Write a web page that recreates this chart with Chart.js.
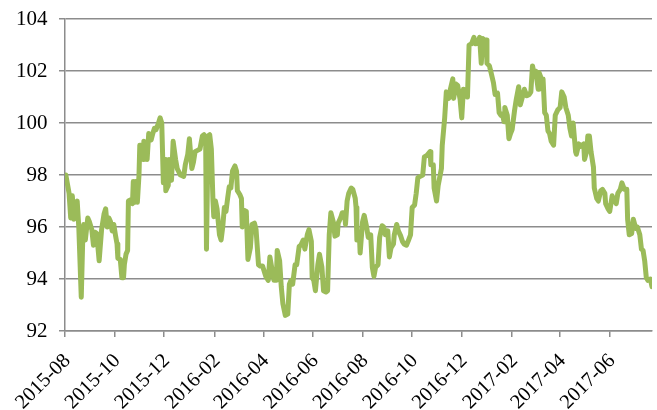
<!DOCTYPE html>
<html>
<head>
<meta charset="utf-8">
<script src="https://cdn.jsdelivr.net/npm/chart.js@4/dist/chart.umd.min.js"></script>
<style>
  html, body { margin: 0; padding: 0; background: #ffffff; overflow: hidden; }
  #wrap { width: 657px; height: 410px; overflow: hidden; position: relative; }
  #c { position: absolute; left: 0; top: -5px; }
</style>
</head>
<body>
<div id="wrap"><canvas id="c" width="657" height="415"></canvas></div>
<script>
// Day offsets from the start date (2015-08-01)
const startDate = '2015-08-01';
const dayOffsets = [
  1,5,7,8,9,11,14,15,17,20,
  22,23,25,28,30,33,35,37,39,42,
  43,45,48,50,52,54,56,58,60,62,
  64,65,68,70,72,73,75,77,78,81,
  83,84,86,87,89,91,92,94,96,97,
  100,101,103,106,108,110,112,115,117,119,
  121,123,124,127,128,131,133,136,138,142,
  146,148,151,153,156,158,160,163,166,169,
  171,173,174,176,178,180,182,183,185,187,
  190,192,194,196,198,200,202,204,206,209,
  211,212,215,217,218,220,223,225,228,230,
  233,235,238,240,243,245,247,250,252,255,
  257,260,261,264,266,268,271,274,276,278,
  280,283,285,288,290,293,295,298,300,303,
  304,306,308,311,313,316,318,321,323,325,
  327,330,332,335,336,339,341,344,345,347,
  349,352,354,357,358,359,362,363,366,368,
  371,373,376,378,380,382,385,387,390,392,
  394,397,399,401,404,405,408,410,413,415,
  417,420,422,425,427,430,432,434,437,440,
  442,445,449,450,453,454,457,459,463,464,
  467,469,472,474,477,478,481,483,486,488,
  490,493,495,497,500,503,505,508,510,512,
  514,516,518,519,522,524,527,529,532,534,
  536,538,540,541,544,546,548,550,553,555,
  558,560,563,565,568,571,573,575,577,579,
  582,583,586,588,590,592,594,596,598,601,
  603,606,609,611,614,616,619,621,623,625,
  628,629,632,634,638,639,642,643,645,647,
  650,651,654,656,659,661,664,665,668,670,
  673,675,678,680,683,685,688,691,692,694,
  697,699,702,704,707,709,711,713,715,717,
  720,722
];
const seriesValues = [
  98.0,97.3,96.35,97.2,97.2,96.3,96.9,97.0,95.97,93.3,
  95.75,96.1,95.5,96.35,96.2,95.9,95.3,95.8,95.75,94.7,
  94.7,95.9,96.5,96.7,96.0,96.35,96.2,95.85,96.1,95.7,
  95.35,94.8,94.75,94.05,94.05,94.55,94.95,95.1,97.0,97.05,
  96.9,97.75,96.95,97.75,96.95,98.0,99.15,99.15,98.6,99.3,
  98.95,98.6,99.6,99.35,99.6,99.8,99.75,100.0,100.2,100.0,
  97.7,98.6,97.4,97.6,98.6,97.8,99.3,98.6,98.25,98.0,
  97.95,98.4,98.8,99.4,98.25,98.5,98.9,98.95,99.0,99.5,
  99.55,99.4,95.15,99.5,99.55,99.0,97.0,96.4,97.0,96.7,
  95.7,95.5,96.0,96.75,96.6,97.1,97.55,97.5,98.15,98.35,
  98.15,97.4,97.25,97.1,96.0,96.65,96.6,94.75,95.2,96.1,
  96.15,95.9,94.55,94.5,94.5,94.3,94.1,93.95,94.85,94.3,
  93.95,93.95,95.1,94.7,93.7,93.05,92.6,92.65,93.8,93.95,
  93.8,94.55,94.55,95.25,95.3,95.5,95.15,95.7,95.9,95.45,
  94.05,93.95,93.55,94.55,94.95,94.45,93.55,93.5,93.55,95.7,
  96.55,96.2,95.65,95.7,96.15,96.35,96.55,96.55,96.1,97.0,
  97.3,97.5,97.45,97.1,96.75,95.5,95.8,95.0,96.2,96.45,
  96.0,95.6,95.7,94.45,94.1,94.45,94.55,95.6,96.05,96.0,
  95.7,95.85,94.85,95.2,95.35,95.7,96.1,95.85,95.65,95.45,
  95.35,95.3,95.45,95.7,96.75,96.85,97.3,97.9,97.95,98.0,
  98.7,98.75,98.9,98.4,98.4,97.5,97.0,97.6,98.25,99.15,
  100.2,101.2,100.95,101.3,101.7,100.95,101.5,101.45,100.9,100.2,
  101.3,101.25,101.0,103.0,103.05,103.3,103.05,103.1,103.3,102.3,
  103.25,103.2,103.2,102.3,102.2,101.95,101.55,101.1,101.15,100.4,
  100.3,100.35,100.05,100.6,100.3,99.4,99.6,99.75,100.5,100.9,
  101.4,100.7,101.05,101.3,101.05,101.1,101.2,102.2,101.9,102.0,
  101.3,101.95,101.7,101.7,100.4,100.3,99.7,99.6,99.3,99.15,
  100.3,100.5,100.6,101.2,101.0,100.6,100.3,99.8,99.5,100.0,
  98.9,98.8,99.2,99.1,99.2,98.6,98.95,99.5,99.5,98.9,
  98.3,97.5,97.1,97.0,97.4,97.45,97.3,96.9,96.7,96.6,
  97.2,97.05,96.9,97.3,97.45,97.7,97.45,97.45,96.3,95.7,
  95.75,96.3,95.95,96.0,95.7,95.15,95.1,94.7,94.05,93.95,
  94.0,93.7
];
const xTickLabels = ['2015-08','2015-10','2015-12','2016-02','2016-04','2016-06',
                     '2016-08','2016-10','2016-12','2017-02','2017-04','2017-06'];
const yMin = 92, yMax = 104, yStep = 2;

// derived
const t0 = Date.parse(startDate + 'T00:00:00Z');
function monthToDay(lbl) {
  const [y, m] = lbl.split('-').map(Number);
  return Math.round((Date.UTC(y, m - 1, 1) - t0) / 86400000);
}
const xTickValues = xTickLabels.map(monthToDay);
const points = dayOffsets.map((d, i) => ({ x: d, y: seriesValues[i] }));

const gridColor = '#8c8c8c';
const family = "'Liberation Serif', 'Times New Roman', serif";

new Chart(document.getElementById('c'), {
  type: 'line',
  data: {
    datasets: [{
      data: points,
      borderColor: '#9bbb59',
      borderWidth: 5,
      pointRadius: 0,
      tension: 0,
      borderCapStyle: 'round',
      borderJoinStyle: 'round',
      fill: false
    }]
  },
  options: {
    responsive: false,
    animation: false,
    devicePixelRatio: 1,
    layout: { padding: { top: 2, right: 5, left: 0, bottom: 0 } },
    plugins: { legend: { display: false }, tooltip: { enabled: false } },
    scales: {
      x: {
        type: 'linear',
        min: 0,
        max: dayOffsets[dayOffsets.length - 1],
        afterBuildTicks: (axis) => { axis.ticks = xTickValues.map(v => ({ value: v })); },
        afterFit: (axis) => { axis.height = 79; },
        ticks: {
          autoSkip: false,
          maxRotation: 45,
          minRotation: 45,
          color: '#000',
          font: { family: family, size: 20.5 },
          padding: 12,
          labelOffset: 2.5,
          callback: (v) => { const i = xTickValues.indexOf(v); return i >= 0 ? xTickLabels[i] : ''; }
        },
        grid: { drawOnChartArea: false, drawTicks: true, tickLength: 6, color: gridColor, lineWidth: 1.5 },
        border: { display: true, color: gridColor, width: 1.5 }
      },
      y: {
        min: yMin,
        max: yMax,
        afterFit: (axis) => { axis.width = 65; },
        ticks: { stepSize: yStep, color: '#000', font: { family: family, size: 21 }, padding: 11.5 },
        grid: { color: gridColor, lineWidth: 1.5, tickLength: 6, drawTicks: true },
        border: { display: true, color: gridColor, width: 1.5 }
      }
    }
  }
});
</script>
</body>
</html>
